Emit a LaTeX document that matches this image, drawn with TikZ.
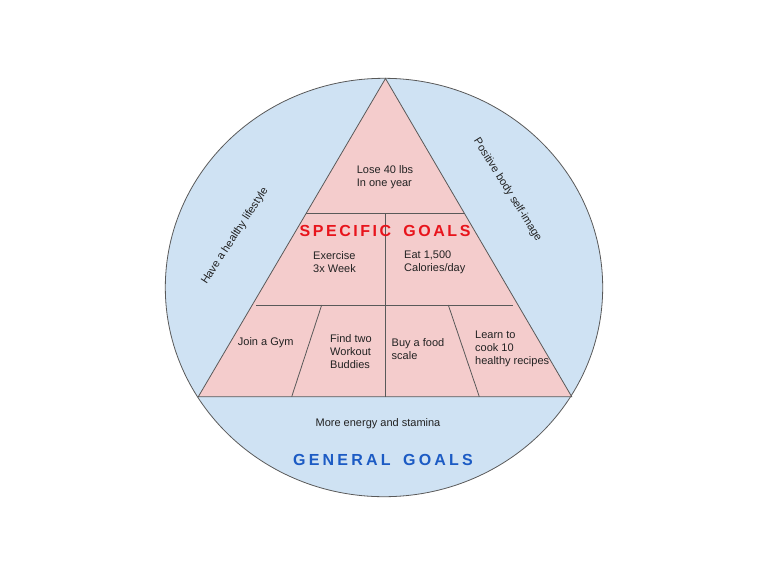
\documentclass[tikz,border=0pt]{standalone}
\usepackage{fontspec}
\setmainfont{Liberation Sans}
\definecolor{circfill}{HTML}{CFE2F3}
\definecolor{trifill}{HTML}{F4CCCC}
\definecolor{linegray}{HTML}{595959}
\definecolor{goalred}{HTML}{E8141C}
\definecolor{goalblue}{HTML}{1C5BC4}
\definecolor{txt}{HTML}{222222}
\tikzset{
  lbl/.style={font=\fontsize{11}{13.3}\selectfont, text=txt, inner sep=0pt, align=left},
  title/.style={font=\fontsize{16}{18}\selectfont\bfseries\addfontfeature{LetterSpace=16}, inner sep=0pt},
  edge/.style={draw=linegray, line width=0.8pt}
}
\begin{document}
\begin{tikzpicture}[x=1pt,y=-1pt]
\useasboundingbox (0,0) rectangle (768,576);
% outer ellipse
\draw[edge, fill=circfill] (384,287.5) ellipse [x radius=218.7, y radius=209.2];
% triangle
\coordinate (A) at (385.5,78.5);
\coordinate (BL) at (198.3,396.7);
\coordinate (BR) at (571.7,396.7);
\draw[edge, fill=trifill] (A) -- (BL) -- (BR) -- cycle;
% inner lines
\coordinate (h1l) at (306.3,213);
\coordinate (h1r) at (464.4,213);
\coordinate (h2l) at (256,305);
\coordinate (h2r) at (513,305);
\coordinate (vt) at (385.3,213);
\coordinate (vb) at (385.3,396.7);
\coordinate (s1t) at (321.7,305);
\coordinate (s1b) at (291.7,396.7);
\coordinate (s2t) at (448.3,305);
\coordinate (s2b) at (479.3,396.7);
\draw[edge] (h1l) -- (h1r);
\draw[edge] (h2l) -- (h2r);
\draw[edge] (vt) -- (vb);
\draw[edge] (s1t) -- (s1b);
\draw[edge] (s2t) -- (s2b);
% texts
\node[lbl] (lose) at (385,177) {Lose 40 lbs\\In one year};
\node[title, text=goalred] (spec) at (385,231) {SPECIFIC\hspace{5pt} GOALS};
\node[lbl, anchor=west] (ex) at (313,262) {Exercise\\3x Week};
\node[lbl, anchor=west] (eat) at (404,262) {Eat 1,500\\Calories/day};
\node[lbl] (gym) at (265.7,343) {Join a Gym};
\node[lbl, anchor=west] (find) at (330,351.5) {Find two\\Workout\\Buddies};
\node[lbl, anchor=west] (buy) at (391.5,349) {Buy a food\\scale};
\node[lbl, anchor=west] (learn) at (475,349) {Learn to\\cook 10\\healthy recipes};
\node[lbl] (energy) at (378,424) {More energy and stamina};
\node[title, text=goalblue, font=\fontsize{16}{18}\selectfont\bfseries\addfontfeature{LetterSpace=20}] (gen) at (383,459.5) {GENERAL\hspace{5pt} GOALS};
\node[lbl, rotate=57] (healthy) at (235,236) {Have a healthy lifestyle};
\node[lbl, rotate=-58] (pos) at (507.5,190) {Positive body self-image};
\end{tikzpicture}
\end{document}
